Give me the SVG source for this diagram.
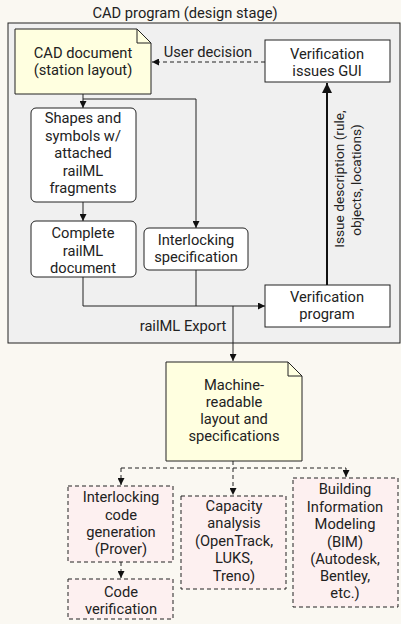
<svg xmlns="http://www.w3.org/2000/svg" width="401" height="624" viewBox="0 0 401 624">
<defs>
<marker id="ah" viewBox="0 0 10 10" refX="10" refY="5" markerWidth="7" markerHeight="7" markerUnits="userSpaceOnUse" orient="auto"><path d="M0,0 L10,5 L0,10 Z" fill="#111"/></marker>
<marker id="ahb" viewBox="0 0 10 10" refX="10" refY="5" markerWidth="5" markerHeight="5" orient="auto"><path d="M0,0 L10,5 L0,10 Z" fill="#111"/></marker>
</defs>
<style>
text{font-family:Roboto,"Liberation Sans",sans-serif;font-size:14.7px;fill:#222;text-anchor:middle}
.rot{font-size:13.7px}
.box{fill:#fff;stroke:#222;stroke-width:1}
.rbox{fill:#fff;stroke:#222;stroke-width:1}
.note{fill:#ffffe0;stroke:#222;stroke-width:1}
.dbox{fill:#fdf0f0;stroke:#222;stroke-width:1;stroke-dasharray:4 3}
.c{fill:none;stroke:#222;stroke-width:1}
.d{fill:none;stroke:#222;stroke-width:1;stroke-dasharray:4 3}
</style>
<rect width="401" height="624" fill="#faf8f2"/>
<g id="cad-program">
<rect x="8" y="23" width="392" height="320" fill="#f0f0f0" stroke="#222"/>
<text x="185" y="18">CAD program (design stage)</text>
</g>
<g id="cad-doc">
<path class="note" d="M15,29 H137 L151,43 V94 H15 Z"/>
<path class="c" d="M137,29 V43 H151"/>
<text x="83" y="58">CAD document</text>
<text x="83" y="75">(station layout)</text>
</g>
<g id="gui">
<rect class="box" x="265" y="40" width="125" height="42"/>
<text x="327" y="59">Verification</text>
<text x="327" y="76">issues GUI</text>
</g>
<g id="shapes">
<rect class="rbox" x="31" y="108" width="105" height="94" rx="5"/>
<text x="83" y="123">Shapes and</text>
<text x="83" y="141">symbols w/</text>
<text x="83" y="158">attached</text>
<text x="83" y="176">railML</text>
<text x="83" y="193">fragments</text>
</g>
<g id="complete">
<rect class="rbox" x="31" y="221" width="105" height="56" rx="5"/>
<text x="83" y="238">Complete</text>
<text x="83" y="256">railML</text>
<text x="83" y="273">document</text>
</g>
<g id="interlocking-spec">
<rect class="rbox" x="144" y="228" width="104" height="42" rx="5"/>
<text x="196" y="245">Interlocking</text>
<text x="196" y="262">specification</text>
</g>
<g id="verif-program">
<rect class="box" x="265" y="285" width="125" height="42"/>
<text x="327" y="302">Verification</text>
<text x="327" y="319">program</text>
</g>
<g id="machine">
<path class="note" d="M166,362 H288 L302,376 V461 H166 Z"/>
<path class="c" d="M288,362 V376 H302"/>
<text x="234" y="390">Machine-</text>
<text x="234" y="407">readable</text>
<text x="234" y="424">layout and</text>
<text x="234" y="441">specifications</text>
</g>
<g id="codegen">
<rect class="dbox" x="68" y="486" width="105" height="76"/>
<text x="121" y="502">Interlocking</text>
<text x="121" y="520">code</text>
<text x="121" y="537">generation</text>
<text x="121" y="554">(Prover)</text>
</g>
<g id="codever">
<rect class="dbox" x="68" y="579" width="105" height="40"/>
<text x="121" y="597">Code</text>
<text x="121" y="614">verification</text>
</g>
<g id="capacity">
<rect class="dbox" x="181" y="496" width="105" height="93"/>
<text x="234" y="511">Capacity</text>
<text x="234" y="528">analysis</text>
<text x="234" y="546">(OpenTrack,</text>
<text x="234" y="563">LUKS,</text>
<text x="234" y="581">Treno)</text>
</g>
<g id="bim">
<rect class="dbox" x="293" y="478" width="105" height="129"/>
<text x="345" y="494">Building</text>
<text x="345" y="512">Information</text>
<text x="345" y="529">Modeling</text>
<text x="345" y="547">(BIM)</text>
<text x="345" y="564">(Autodesk,</text>
<text x="345" y="581">Bentley,</text>
<text x="345" y="598">etc.)</text>
</g>
<g id="connectors">
<path class="d" d="M265,62 H152" marker-end="url(#ah)"/>
<text x="208" y="57">User decision</text>
<path class="c" d="M83,94 V108" marker-end="url(#ah)"/>
<path class="c" d="M83,99 H196 V228" marker-end="url(#ah)"/>
<path class="c" d="M83,202 V221" marker-end="url(#ah)"/>
<path class="c" d="M83,277 V306 H265" marker-end="url(#ah)"/>
<path class="c" d="M196,270 V306"/>
<path class="c" d="M233,306 V361" marker-end="url(#ah)"/>
<text x="183" y="331">railML Export</text>
<path fill="none" stroke="#111" stroke-width="2" d="M327,285 V83" marker-end="url(#ahb)"/>
<text class="rot" transform="translate(344,179) rotate(-90)">Issue description (rule,</text>
<text class="rot" transform="translate(361,180) rotate(-90)">objects, locations)</text>
<path class="d" d="M233,461 V468 M121,468 H346"/>
<path class="d" d="M121,468 V485" marker-end="url(#ah)"/>
<path class="d" d="M233,468 V495" marker-end="url(#ah)"/>
<path class="d" d="M346,468 V477" marker-end="url(#ah)"/>
<path class="d" d="M121,562 V578" marker-end="url(#ah)"/>
</g>
</svg>
